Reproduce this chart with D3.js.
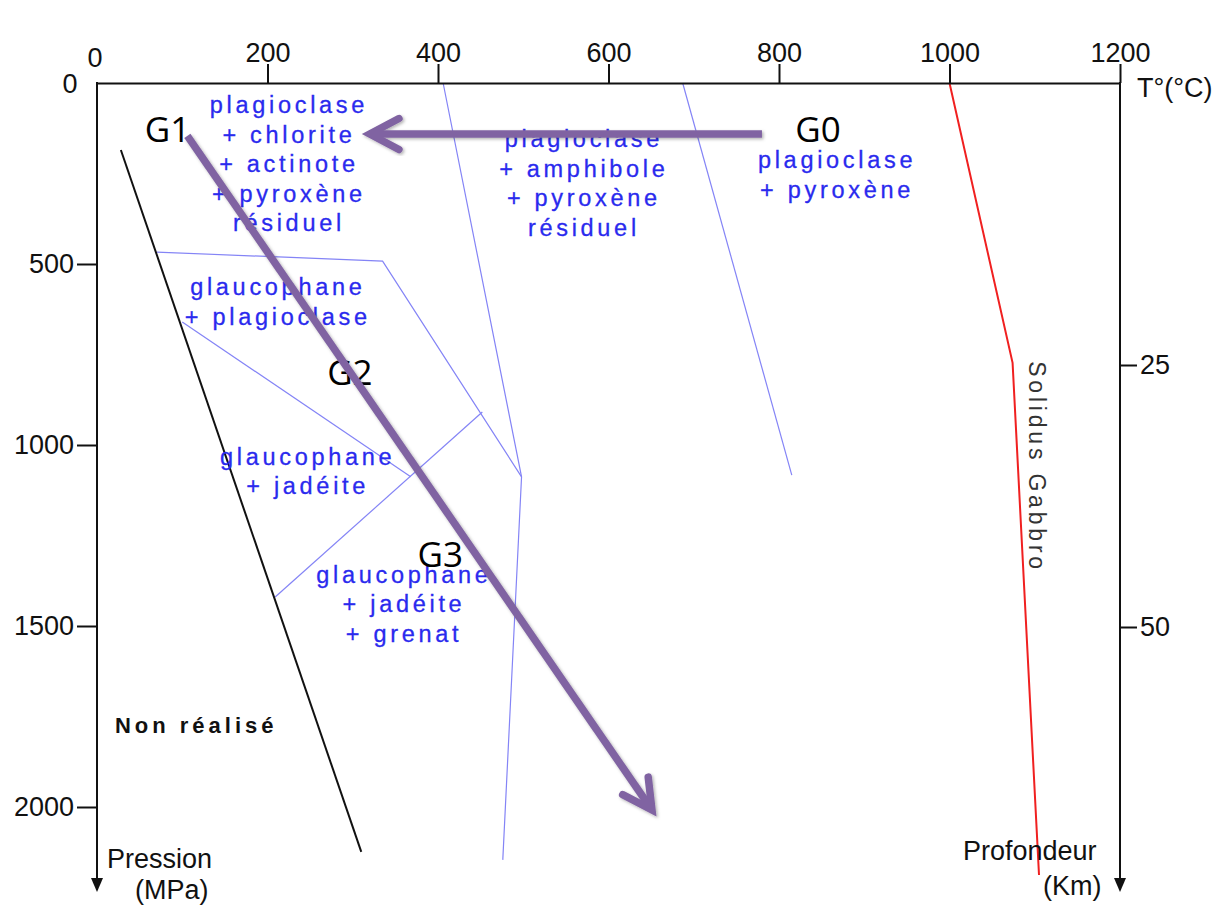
<!DOCTYPE html>
<html>
<head>
<meta charset="utf-8">
<script src="https://cdn.jsdelivr.net/npm/d3@7"></script>
<style>
    body { margin: 0; background: #fff; }
    svg { display: block; font-family: "Liberation Sans", Arial, sans-serif; }
</style>
</head>
<body>
<svg id="chart"></svg>
<script>
// Axis ticks
let temperatureTicks = [200, 400, 600, 800, 1000, 1200];
let pressureTicks = [500, 1000, 1500, 2000];
let depthTicks = [25, 50];

// Lines, points as [T (°C), P (MPa)]
let limitNonRealise = [[28, 185], [310, 2124]];
let solidusGabbro = [[1000, 0], [1074, 773], [1105, 2188]];
let faciesLimits = [
    [[406, 0], [498, 1088], [476, 2146]],
    [[687, 0], [815, 1083]],
    [[70, 467], [335, 492], [498, 1088]],
    [[452, 909], [209, 1420]],
    [[100, 660], [368, 1088]]
];

// Mineral assemblages (centre of first line)
let faciesNames = [
    ["plagioclase", "+ chlorite", "+ actinote", "+ pyroxène", "résiduel"],
    ["plagioclase", "+ amphibole", "+ pyroxène", "résiduel"],
    ["plagioclase", "+ pyroxène"],
    ["glaucophane", "+ plagioclase"],
    ["glaucophane", "+ jadéite"],
    ["glaucophane", "+ jadéite", "+ grenat"]
];
let faciesT = [223, 569, 866, 210, 245, 358];
let faciesP = [83, 177, 235, 586, 1055, 1381];

// Gabbro stages and the path between them
let stageNames = ["G0", "G1", "G2", "G3"];
let stageT = [819, 56, 270, 376];
let stageP = [163, 163, 834, 1337];
let pathG0G1 = [[780, 141], [320, 141]];
let pathG1G3 = [[106, 146], [651, 2008]];

let width = 1228;
let height = 908;

let svg = d3.select("#chart")
    .attr("width", width)
    .attr("height", height);

let x = d3.scaleLinear().domain([0, 1200]).range([97, 1120]);
let y = d3.scaleLinear().domain([0, 2000]).range([83, 807]);
let yDepth = d3.scaleLinear().domain([25, 50]).range([365, 627]);

let line = d3.line()
    .x((d) => x(d[0]))
    .y((d) => y(d[1]));

// shadow under the purple arrows
svg.append("defs")
    .append("filter")
    .attr("id", "shadow")
    .attr("x", "-20%").attr("y", "-20%")
    .attr("width", "140%").attr("height", "140%")
    .append("feDropShadow")
    .attr("dx", 1.5)
    .attr("dy", 1.5)
    .attr("stdDeviation", 1.5)
    .attr("flood-color", "#000")
    .attr("flood-opacity", 0.3);

// Facies limits
svg.append("g")
    .selectAll("path")
    .data(faciesLimits)
    .enter()
    .append("path")
    .attr("d", line)
    .attr("fill", "none")
    .attr("stroke", "#8484f6")
    .attr("stroke-width", 1.2);

svg.append("path")
    .attr("d", line(limitNonRealise))
    .attr("fill", "none")
    .attr("stroke", "#111")
    .attr("stroke-width", 2);

svg.append("path")
    .attr("d", line(solidusGabbro))
    .attr("fill", "none")
    .attr("stroke", "#f02020")
    .attr("stroke-width", 2);

// Axes
let fmt = d3.format("d");

let topAxis = svg.append("g")
    .attr("transform", "translate(0," + y(0) + ")")
    .call(d3.axisTop(x).tickValues(temperatureTicks).tickFormat(fmt).tickSize(19).tickSizeOuter(0).tickPadding(2));

let leftAxis = svg.append("g")
    .attr("transform", "translate(" + x(0) + ",0)")
    .call(d3.axisLeft(y).tickValues(pressureTicks).tickFormat(fmt).tickSize(20).tickPadding(3));

let rightAxis = svg.append("g")
    .attr("transform", "translate(" + x(1200) + ",0)")
    .call(d3.axisRight(yDepth).tickValues(depthTicks).tickFormat(fmt).tickSize(17).tickPadding(3));

[topAxis, leftAxis, rightAxis].forEach((axis) => {
    axis.selectAll("text")
        .attr("font-size", 27)
        .attr("font-family", "Liberation Sans, Arial, sans-serif")
        .attr("fill", "#111");
    axis.selectAll("line").attr("stroke", "#111").attr("stroke-width", 2);
    axis.select(".domain").attr("stroke", "#111").attr("stroke-width", 2);
});
leftAxis.select(".domain").remove();
rightAxis.select(".domain").remove();

// vertical axes go on past 2000 MPa and end with an arrow
[x(0), x(1200)].forEach((ax) => {
    svg.append("line")
        .attr("x1", ax).attr("x2", ax)
        .attr("y1", y(0) - 1).attr("y2", 882)
        .attr("stroke", "#111")
        .attr("stroke-width", 2);
    svg.append("path")
        .attr("d", `M${ax - 6},878 L${ax + 6},878 L${ax},892 Z`)
        .attr("fill", "#111");
});

// zero labels at the corner
svg.append("text")
    .attr("x", x(0) - 2).attr("y", y(0) - 16)
    .attr("text-anchor", "middle")
    .attr("font-size", 27).attr("fill", "#111")
    .text("0");
svg.append("text")
    .attr("x", x(0) - 27).attr("y", y(0) + 10)
    .attr("text-anchor", "middle")
    .attr("font-size", 27).attr("fill", "#111")
    .text("0");

// Axis titles
svg.append("text")
    .attr("x", 1137).attr("y", 97)
    .attr("font-size", 27).attr("fill", "#111")
    .text("T°(°C)");

let pression = svg.append("text")
    .attr("font-size", 27).attr("fill", "#111");
pression.append("tspan").attr("x", 107).attr("y", 868).text("Pression");
pression.append("tspan").attr("x", 135).attr("y", 899).text("(MPa)");

let profondeur = svg.append("text")
    .attr("font-size", 27).attr("fill", "#111");
profondeur.append("tspan").attr("x", 963).attr("y", 860).text("Profondeur");
profondeur.append("tspan").attr("x", 1043).attr("y", 895).text("(Km)");

// Facies names
let facies = svg.append("g")
    .selectAll("text")
    .data(faciesNames)
    .enter()
    .append("text")
    .attr("text-anchor", "middle")
    .attr("font-size", 23.5)
    .attr("letter-spacing", 3.7)
    .attr("fill", "#2a2aee")
    .attr("stroke", "#2a2aee")
    .attr("stroke-width", 0.3);

facies.selectAll("tspan")
    .data((d, i) => d.map((txt, j) => ({ txt: txt, j: j, i: i })))
    .enter()
    .append("tspan")
    .attr("x", (d) => x(faciesT[d.i]) + 1.8)
    .attr("y", (d) => y(faciesP[d.i]) + d.j * 29.5)
    .text((d) => d.txt);

svg.append("text")
    .attr("x", x(21)).attr("y", y(1796))
    .attr("font-size", 22)
    .attr("font-weight", "bold")
    .attr("letter-spacing", 4)
    .attr("fill", "#111")
    .text("Non réalisé");

svg.append("text")
    .attr("transform", "translate(" + (x(1103) - 8) + "," + y(1061) + ") rotate(90)")
    .attr("text-anchor", "middle")
    .attr("font-size", 23)
    .attr("letter-spacing", 3.8)
    .attr("fill", "#333")
    .text("Solidus Gabbro");

// Stage labels
svg.append("g")
    .selectAll("text")
    .data(stageNames)
    .enter()
    .append("text")
    .attr("x", (d, i) => x(stageT[i]))
    .attr("y", (d, i) => y(stageP[i]))
    .attr("font-family", "Open Sans, sans-serif")
    .attr("font-size", 35)
    .attr("fill", "#000")
    .text((d) => d);

// Purple arrows
function drawArrow(points) {
    let x1 = x(points[0][0]), y1 = y(points[0][1]);
    let x2 = x(points[1][0]), y2 = y(points[1][1]);
    let back = Math.atan2(y1 - y2, x1 - x2);
    let arm = 33;
    let spread = 28 * Math.PI / 180;
    let g = svg.append("g").attr("filter", "url(#shadow)");
    let head = `M${x2 + arm * Math.cos(back + spread)},${y2 + arm * Math.sin(back + spread)}` +
        ` L${x2},${y2}` +
        ` L${x2 + arm * Math.cos(back - spread)},${y2 + arm * Math.sin(back - spread)}`;
    g.append("line")
        .attr("x1", x1).attr("y1", y1)
        .attr("x2", x2 + 2 * Math.cos(back)).attr("y2", y2 + 2 * Math.sin(back))
        .attr("stroke", "#8064a2")
        .attr("stroke-width", 7.5)
        .attr("stroke-linecap", "butt");
    g.append("path")
        .attr("d", head)
        .attr("fill", "none")
        .attr("stroke", "#8064a2")
        .attr("stroke-width", 7.5)
        .attr("stroke-linecap", "round")
        .attr("stroke-linejoin", "miter");
}

drawArrow(pathG0G1);
drawArrow(pathG1G3);
</script>
</body>
</html>
